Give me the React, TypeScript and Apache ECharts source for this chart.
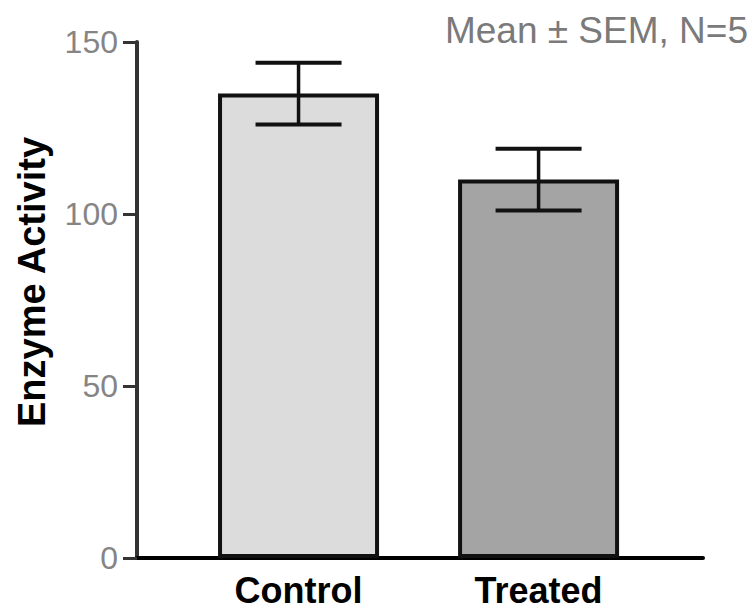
import React, { useEffect, useRef } from "react";
import * as echarts from "echarts";

const categories = ["Control", "Treated"];
const means = [135, 110];
const sems = [9, 9];
const barColors = ["#dcdcdc", "#a4a4a4"];
const yTicks = { min: 0, max: 150, interval: 50 };
const titleText = "Mean ± SEM, N=5";
const yAxisTitle = "Enzyme Activity";

const FONT = "'Liberation Sans', Arial, Helvetica, sans-serif";

export default function App() {
  const ref = useRef<HTMLDivElement>(null);
  useEffect(() => {
    if (!ref.current) return;
    const chart = echarts.init(ref.current, undefined, { renderer: "svg" });
    const positions = categories.map((_, i) => i + 1);
    chart.setOption({
      animation: false,
      backgroundColor: "#ffffff",
      title: {
        text: titleText,
        right: 3,
        top: 7,
        textStyle: { fontFamily: FONT, fontSize: 37, fontWeight: "normal", color: "#7a7a7a" },
      },
      grid: { left: 137, right: 53, top: 42, bottom: 55, containLabel: false },
      xAxis: {
        type: "value",
        min: 0.327,
        max: 2.685,
        splitLine: { show: false },
        axisTick: { show: false },
        axisLine: { show: true, onZero: false, lineStyle: { color: "#000", width: 4 } },
        axisLabel: {
          showMinLabel: false,
          showMaxLabel: false,
          margin: 14,
          fontFamily: FONT,
          fontSize: 36,
          lineHeight: 36,
          fontWeight: "bold",
          color: "#000",
          formatter: (v: number) => {
            const idx = positions.findIndex((p) => Math.abs(p - v) < 1e-6);
            return idx >= 0 ? categories[idx] : "";
          },
        },
      },
      yAxis: {
        type: "value",
        min: yTicks.min,
        max: yTicks.max,
        interval: yTicks.interval,
        splitLine: { show: false },
        axisLine: { show: true, lineStyle: { color: "#333", width: 4 } },
        axisTick: { show: true, length: 14, lineStyle: { color: "#333", width: 3 } },
        axisLabel: { margin: 19, fontFamily: FONT, fontSize: 32, color: "#858585" },
        name: yAxisTitle,
        nameLocation: "middle",
        nameGap: 86,
        nameTextStyle: {
          fontFamily: FONT,
          fontSize: 38,
          fontWeight: "bold",
          color: "#000",
          padding: [0, 0, 0, 36],
        },
      },
      series: [
        {
          type: "bar",
          barWidth: 161,
          data: means.map((m, i) => ({
            value: [positions[i], m],
            itemStyle: { color: barColors[i], borderColor: "#111", borderWidth: 4 },
          })),
          z: 2,
        },
        {
          type: "custom",
          z: 5,
          data: means.map((m, i) => [positions[i], m - sems[i], m + sems[i]]),
          renderItem: (params: any, api: any) => {
            const x = api.value(0);
            const lo = api.coord([x, api.value(1)]);
            const hi = api.coord([x, api.value(2)]);
            const hw = 43;
            const style = { stroke: "#111", lineWidth: 4 };
            return {
              type: "group",
              children: [
                { type: "line", shape: { x1: lo[0], y1: lo[1], x2: hi[0], y2: hi[1] }, style: { stroke: "#111", lineWidth: 3.5 } },
                { type: "line", shape: { x1: hi[0] - hw, y1: hi[1], x2: hi[0] + hw, y2: hi[1] }, style },
                { type: "line", shape: { x1: lo[0] - hw, y1: lo[1], x2: lo[0] + hw, y2: lo[1] }, style },
              ],
            };
          },
        },
      ],
    });
    return () => chart.dispose();
  }, []);
  return (
    <div
      ref={ref}
      style={{ position: "fixed", left: 0, top: 0, width: 756, height: 613, background: "#fff" }}
    />
  );
}
